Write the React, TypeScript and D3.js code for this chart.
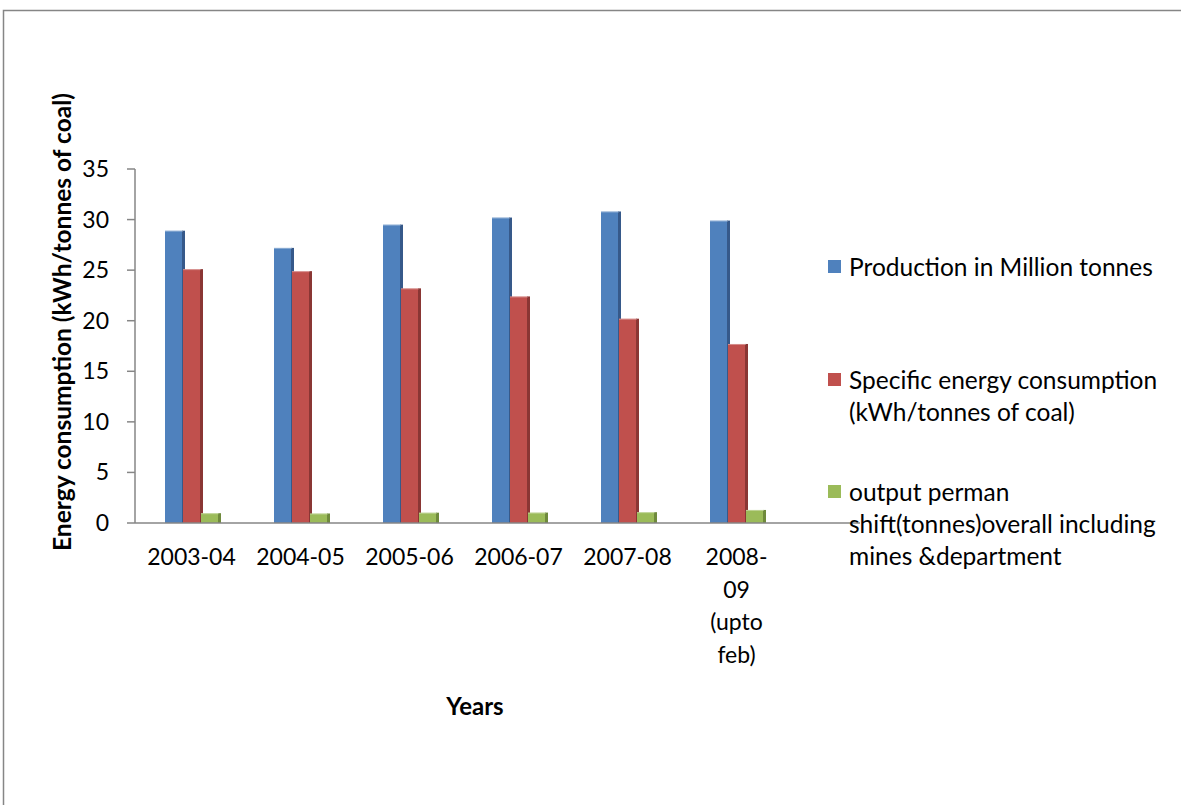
import React from 'react';
import * as d3 from 'd3';

const categories = ['2003-04', '2004-05', '2005-06', '2006-07', '2007-08', '2008-09 (upto feb)'];
const categoryLines = [['2003-04'], ['2004-05'], ['2005-06'], ['2006-07'], ['2007-08'], ['2008-', '09', '(upto', 'feb)']];
const production = [28.9, 27.2, 29.5, 30.2, 30.8, 29.9];
const specificEnergy = [25.1, 24.9, 23.2, 22.4, 20.2, 17.7];
const outputPerShift = [0.97, 0.94, 1.02, 1.03, 1.07, 1.29];
const yTicks = [0, 5, 10, 15, 20, 25, 30, 35];

const seriesNames = [
    ['Production in Million tonnes'],
    ['Specific energy consumption', '(kWh/tonnes of coal)'],
    ['output perman', 'shift(tonnes)overall including', 'mines &department'],
];
const seriesValues = [production, specificEnergy, outputPerShift];
const fills = ['#4F81BD', '#C0504D', '#9BBB59'];
const sides = ['#36598a', '#8a3634', '#6f8a3c'];

const FONT = 'Lato, "Open Sans", sans-serif';

const W = 1181;
const H = 805;
const left = 135;
const right = 789;
const top = 169;
const bottom = 523;

const App = () => {
    const x = d3.scaleBand().domain(categories).range([left, right]);
    const y = d3.scaleLinear().domain([0, 35]).range([bottom, top]);
    const barW = 18;
    const legendY = [267, 380, 492];

    return (
        <svg width={W} height={H} style={{position: 'absolute', left: 0, top: 0, background: '#fff'}}>
            {/* chart frame, only top and left edge are visible */}
            <rect x={3.5} y={10.5} width={W + 20} height={H + 20} fill="#fff" stroke="#868686" strokeWidth={1.5}/>

            {/* bars */}
            {categories.map((c, i) => (
                <g key={c}>
                    {seriesValues.map((vals, s) => {
                        const bx = x(c) + 30 + s * barW;
                        const by = y(vals[i]);
                        const h = bottom - by;
                        return (
                            <g key={s}>
                                <rect x={bx} y={by} width={barW} height={h} fill={fills[s]}/>
                                <rect x={bx + barW - 1} y={by} width={3} height={h} fill={sides[s]}/>
                                <line x1={bx} x2={bx + barW} y1={by + 0.5} y2={by + 0.5} stroke="#fff" strokeOpacity={0.35}/>
                            </g>
                        );
                    })}
                </g>
            ))}

            {/* y axis */}
            <line x1={left} x2={left} y1={top} y2={bottom} stroke="#868686" strokeWidth={1.5}/>
            {yTicks.map(t => (
                <g key={t}>
                    <line x1={left - 8} x2={left} y1={y(t)} y2={y(t)} stroke="#868686" strokeWidth={1.5}/>
                    <text x={109} y={y(t)} dy="0.35em" textAnchor="end" fontFamily={FONT} fontSize={23} fill="#000">{t}</text>
                </g>
            ))}

            {/* x axis */}
            <line x1={left} x2={860} y1={bottom} y2={bottom} stroke="#868686" strokeWidth={1.5}/>
            {categories.map((c, i) => (
                <text key={c} x={x(c) + x.bandwidth() / 2} y={557} textAnchor="middle" fontFamily={FONT} fontSize={23} fill="#000">
                    {categoryLines[i].map((ln, k) => (
                        <tspan key={k} x={x(c) + x.bandwidth() / 2 + 2} dy={k === 0 ? '0.35em' : 32.5}>{ln}</tspan>
                    ))}
                </text>
            ))}

            {/* axis titles */}
            <text x={475} y={707} dy="0.35em" textAnchor="middle" fontFamily={FONT} fontSize={24} fontWeight="bold">Years</text>
            <text transform={`translate(62,322) rotate(-90)`} dy="0.35em" textAnchor="middle" fontFamily={FONT} fontSize={24.5} fontWeight="bold">
                Energy consumption (kWh/tonnes of coal)
            </text>

            {/* legend */}
            {seriesNames.map((lines, s) => (
                <g key={s}>
                    <rect x={828} y={legendY[s] - 7} width={13} height={13} fill={fills[s]}/>
                    <text x={849} y={legendY[s]} fontFamily={FONT} fontSize={24.5} fill="#000">
                        {lines.map((ln, k) => (
                            <tspan key={k} x={849} dy={k === 0 ? '0.35em' : 32}>{ln}</tspan>
                        ))}
                    </text>
                </g>
            ))}
        </svg>
    );
};

export default App;
